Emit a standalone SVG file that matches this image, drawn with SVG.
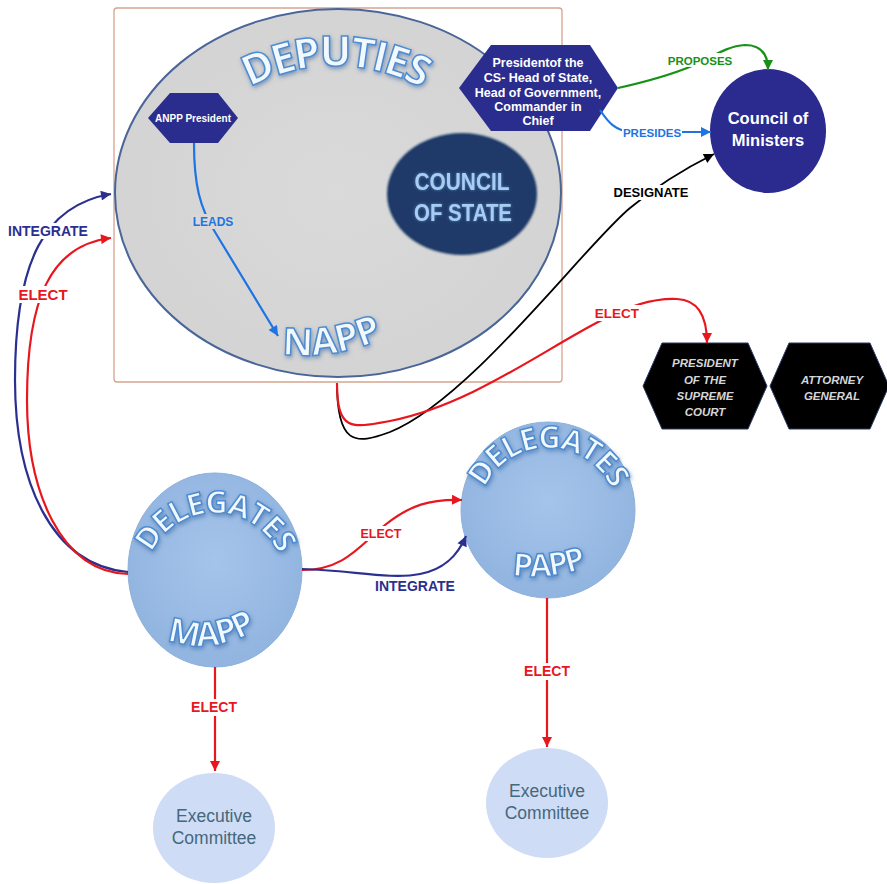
<svg xmlns="http://www.w3.org/2000/svg" width="887" height="884" viewBox="0 0 887 884">
<defs>
<style>
.lbl{font-family:"Liberation Sans",Arial,sans-serif;font-weight:bold;text-anchor:middle}
.wa{font-family:"Open Sans","Liberation Sans",sans-serif;font-weight:bold;fill:#f1f8fe;stroke:#4f8bd0;stroke-width:1.5;filter:url(#wglow)}
.c{fill:none;stroke-width:2.2}
.red{stroke:#e8161d}.navy{stroke:#2b2f8f}.blue{stroke:#1e74e2}.green{stroke:#179117}.blk{stroke:#000;stroke-width:1.8}
.hexw{font-family:"Liberation Sans",Arial,sans-serif;font-weight:bold;fill:#fff;text-anchor:middle}
.hexg{font-family:"Liberation Sans",Arial,sans-serif;font-weight:bold;font-style:italic;fill:#d6d6d6;text-anchor:middle;font-size:11.5px}
.deleg{fill:url(#dg);stroke:#8db0da;stroke-width:1}
.exec{fill:#cfdcf5}
.exect{font-family:"Liberation Sans",Arial,sans-serif;fill:#44687c;font-size:17.5px;text-anchor:middle}
</style>
<filter id="wglow" x="-20%" y="-40%" width="140%" height="180%">
<feGaussianBlur in="SourceAlpha" stdDeviation="2.2" result="b"/>
<feOffset in="b" dx="1" dy="2" result="o"/>
<feFlood flood-color="#3b6aa5" flood-opacity="0.6"/>
<feComposite in2="o" operator="in" result="s"/>
<feMerge><feMergeNode in="s"/><feMergeNode in="SourceGraphic"/></feMerge>
</filter>
<filter id="csglow" x="-20%" y="-40%" width="140%" height="180%">
<feGaussianBlur in="SourceAlpha" stdDeviation="1.5" result="b"/>
<feFlood flood-color="#6aa3dc" flood-opacity="0.7"/>
<feComposite in2="b" operator="in" result="s"/>
<feMerge><feMergeNode in="s"/><feMergeNode in="SourceGraphic"/></feMerge>
</filter>
<filter id="soft" x="-10%" y="-10%" width="120%" height="120%">
<feGaussianBlur stdDeviation="1.2"/>
</filter>
<radialGradient id="dg" cx="50%" cy="45%" r="60%">
<stop offset="0" stop-color="#a6c4ea"/>
<stop offset="1" stop-color="#8fb3df"/>
</radialGradient>
<radialGradient id="eg" cx="50%" cy="50%" r="55%">
<stop offset="0" stop-color="#dadada"/>
<stop offset="1" stop-color="#d3d3d3"/>
</radialGradient>
<marker id="m-red" viewBox="0 0 10 10" refX="10" refY="5" markerWidth="11" markerHeight="10" markerUnits="userSpaceOnUse" orient="auto"><path d="M0,0 L10,5 L0,10 z" fill="#e8161d"/></marker>
<marker id="m-navy" viewBox="0 0 10 10" refX="10" refY="5" markerWidth="11" markerHeight="10" markerUnits="userSpaceOnUse" orient="auto"><path d="M0,0 L10,5 L0,10 z" fill="#2b2f8f"/></marker>
<marker id="m-blue" viewBox="0 0 10 10" refX="10" refY="5" markerWidth="11" markerHeight="10" markerUnits="userSpaceOnUse" orient="auto"><path d="M0,0 L10,5 L0,10 z" fill="#1e74e2"/></marker>
<marker id="m-green" viewBox="0 0 10 10" refX="10" refY="5" markerWidth="11" markerHeight="10" markerUnits="userSpaceOnUse" orient="auto"><path d="M0,0 L10,5 L0,10 z" fill="#179117"/></marker>
<marker id="m-blk" viewBox="0 0 10 10" refX="10" refY="5" markerWidth="12" markerHeight="10" markerUnits="userSpaceOnUse" orient="auto"><path d="M0,0 L10,5 L0,10 z" fill="#000"/></marker>
<path id="p-dep" d="M154,247 A181,181 0 0 1 516,247"/>
<path id="p-napp" d="M270,352 Q330,364 394,334"/>
<path id="p-dm" d="M145,583 A70,70 0 0 1 285,583"/>
<path id="p-mapp" d="M158,636 Q210,660 264,626"/>
<path id="p-dp" d="M478,518 A70,70 0 0 1 618,518"/>
<path id="p-papp" d="M505,574 Q548,582 592,566"/>
</defs>
<rect width="887" height="884" fill="#fff"/>

<g id="napp-frame">
<rect x="114" y="8" width="448" height="374" rx="3" fill="#fff" stroke="#d6a48e" stroke-width="1.3"/>
<ellipse cx="338" cy="193" rx="223" ry="184" fill="url(#eg)" stroke="#4a6598" stroke-width="2"/>
<text class="wa" font-size="42" letter-spacing="-2.5"><textPath href="#p-dep" startOffset="50%" text-anchor="middle">DEPUTIES</textPath></text>
<text class="wa" font-size="38" letter-spacing="-0.5"><textPath href="#p-napp" startOffset="50%" text-anchor="middle">NAPP</textPath></text>
</g>

<g id="council-of-state">
<ellipse cx="462" cy="194" rx="75" ry="61" fill="#1f3a68" filter="url(#soft)"/>
<ellipse cx="462" cy="194" rx="73" ry="59" fill="#1f3a68"/>
<text class="lbl" font-size="24" fill="#a8cdf2" filter="url(#csglow)"><tspan x="462" y="190" textLength="95" lengthAdjust="spacingAndGlyphs">COUNCIL</tspan><tspan x="463" y="221" textLength="98" lengthAdjust="spacingAndGlyphs">OF STATE</tspan></text>
</g>

<g id="anpp-president">
<polygon points="148,118 170,93 218,93 238,118 218,143 170,143" fill="#2b2d8e"/>
<text class="hexw" x="193" y="121.5" font-size="10">ANPP President</text>
</g>

<g id="president-cs">
<polygon points="459,88 491,45 590,45 618,88 590,131 491,131" fill="#2b2d8e"/>
<text class="hexw" font-size="12.5"><tspan x="538" y="66.5">Presidentof the</tspan><tspan x="538" y="81.5">CS- Head of State,</tspan><tspan x="538" y="96.5">Head of Government,</tspan><tspan x="538" y="110.5">Commander in</tspan><tspan x="538" y="124.5">Chief</tspan></text>
</g>

<g id="council-of-ministers">
<ellipse cx="768" cy="131" rx="58" ry="62" fill="#2b2a8e"/>
<text class="hexw" font-size="16.5"><tspan x="768" y="124">Council of</tspan><tspan x="768" y="146">Ministers</tspan></text>
</g>

<g id="supreme-court">
<polygon points="643,386 662,343 748,343 767,386 748,429 662,429" fill="#000" stroke="#2a3a66" stroke-width="1"/>
<text class="hexg"><tspan x="705" y="367">PRESIDENT</tspan><tspan x="705" y="384">OF THE</tspan><tspan x="705" y="400">SUPREME</tspan><tspan x="705" y="416">COURT</tspan></text>
</g>

<g id="attorney-general">
<polygon points="770,386 789,343 870,343 889,386 870,429 789,429" fill="#000" stroke="#2a3a66" stroke-width="1"/>
<text class="hexg"><tspan x="832" y="384">ATTORNEY</tspan><tspan x="832" y="400">GENERAL</tspan></text>
</g>

<g id="mapp">
<ellipse cx="215" cy="570" rx="87" ry="97" class="deleg"/>
<text class="wa" font-size="31" letter-spacing="-1.5"><textPath href="#p-dm" startOffset="50%" text-anchor="middle">DELEGATES</textPath></text>
<text class="wa" font-size="34" letter-spacing="-1.5"><textPath href="#p-mapp" startOffset="50%" text-anchor="middle">MAPP</textPath></text>
</g>

<g id="papp">
<ellipse cx="548" cy="510" rx="87" ry="88" class="deleg"/>
<text class="wa" font-size="31" letter-spacing="-1.5"><textPath href="#p-dp" startOffset="50%" text-anchor="middle">DELEGATES</textPath></text>
<text class="wa" font-size="32" letter-spacing="-2"><textPath href="#p-papp" startOffset="50%" text-anchor="middle">PAPP</textPath></text>
</g>

<g id="exec-mapp">
<ellipse cx="214" cy="828" rx="61" ry="55" class="exec"/>
<text class="exect"><tspan x="214" y="822">Executive</tspan><tspan x="214" y="844">Committee</tspan></text>
</g>

<g id="exec-papp">
<ellipse cx="547" cy="803" rx="61" ry="55" class="exec"/>
<text class="exect"><tspan x="547" y="797">Executive</tspan><tspan x="547" y="819">Committee</tspan></text>
</g>

<g id="connectors">
<path class="c blue" d="M194,143 C194,185 200,208 215,232 L278,336" marker-end="url(#m-blue)"/>
<rect x="191" y="214" width="44" height="15" fill="#d8d8d8"/>
<text class="lbl" x="213" y="226" font-size="12" fill="#1e74e2">LEADS</text>

<path class="c green" d="M618,88 C645,82 668,76 692,66 C712,57 727,46 745,45 C762,45 768,55 768,70" marker-end="url(#m-green)"/>
<rect x="666" y="53" width="68" height="14" fill="#fff"/>
<text class="lbl" x="700" y="64.5" font-size="11.5" fill="#179117">PROPOSES</text>

<path class="c blue" d="M600,110 C608,122 615,131 632,132 L711,132" marker-end="url(#m-blue)"/>
<rect x="622" y="125" width="60" height="14" fill="#fff"/>
<text class="lbl" x="652" y="136.5" font-size="11.5" fill="#1e74e2">PRESIDES</text>

<path class="c blk" d="M337,383 C337,445 355,445 390,432 C470,400 585,245 630,208 C660,183 690,166 714,154" marker-end="url(#m-blk)"/>
<rect x="613" y="185" width="77" height="15" fill="#fff"/>
<text class="lbl" x="651" y="197" font-size="13" fill="#000">DESIGNATE</text>

<path class="c red" d="M337,383 C337,432 352,428 390,421 C470,405 540,352 600,321 C630,305 655,298 677,299 C700,300 707,320 707,343" marker-end="url(#m-red)"/>
<rect x="594" y="305" width="48" height="16" fill="#fff"/>
<text class="lbl" x="617" y="318" font-size="13.5" fill="#e8161d">ELECT</text>

<path class="c navy" d="M128,572 C50,565 15,480 15,380 C15,260 45,205 111,194" marker-end="url(#m-navy)"/>
<path class="c red" d="M128,574 C60,572 27,490 27,400 C27,300 50,245 111,238" marker-end="url(#m-red)"/>
<rect x="7" y="223" width="82" height="16" fill="#fff"/>
<text class="lbl" x="48" y="236" font-size="14" fill="#2b2f8f">INTEGRATE</text>
<rect x="17" y="286" width="52" height="17" fill="#fff"/>
<text class="lbl" x="43" y="299.5" font-size="15" fill="#e8161d">ELECT</text>

<path class="c red" d="M302,570 C345,570 360,545 385,525 C410,505 430,499 462,500" marker-end="url(#m-red)"/>
<rect x="358" y="526" width="46" height="15" fill="#fff"/>
<text class="lbl" x="381" y="538" font-size="12.5" fill="#e8161d">ELECT</text>
<path class="c navy" d="M302,569 C350,570 390,580 420,574 C445,569 458,555 466,536" marker-end="url(#m-navy)"/>
<text class="lbl" x="415" y="591" font-size="14" fill="#2b2f8f">INTEGRATE</text>

<path class="c red" d="M215,667 L215,771" marker-end="url(#m-red)"/>
<rect x="189" y="699" width="52" height="17" fill="#fff"/>
<text class="lbl" x="214" y="712" font-size="14" fill="#e8161d">ELECT</text>

<path class="c red" d="M547,598 L547,747" marker-end="url(#m-red)"/>
<rect x="521" y="663" width="52" height="17" fill="#fff"/>
<text class="lbl" x="547" y="676" font-size="14" fill="#e8161d">ELECT</text>
</g>
</svg>
